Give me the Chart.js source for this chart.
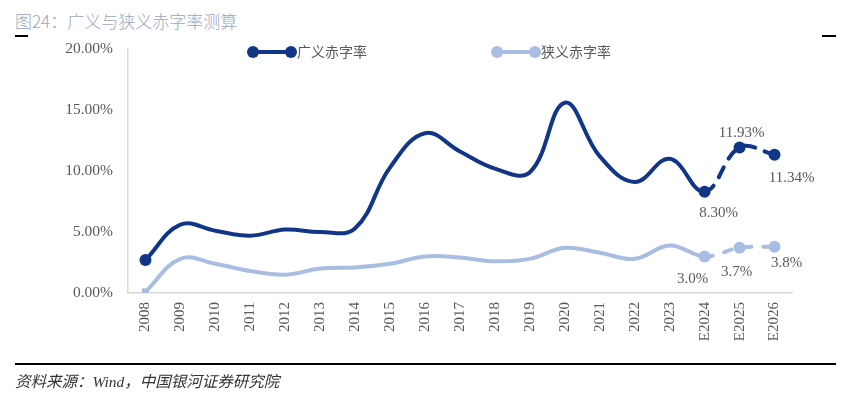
<!doctype html>
<html lang="zh">
<head>
  <meta charset="utf-8">
  <script src="https://cdn.jsdelivr.net/npm/chart.js@4/dist/chart.umd.min.js"></script>
  <style>
    html, body { margin: 0; padding: 0; background: #fff; }
    .wrap { position: relative; width: 848px; height: 393px; overflow: hidden; }
    .title { position: absolute; left: 15px; top: 8px; font: 300 17px "Noto Sans CJK SC", sans-serif; color: #9aa5bf; }
    .tick-l { position: absolute; left: 15px; top: 35px; width: 13px; height: 1.5px; background: #000; }
    .tick-r { position: absolute; left: 822px; top: 35px; width: 14px; height: 1.5px; background: #000; }
    .chart-box { position: absolute; left: 0; top: 0; width: 848px; height: 393px; }
    .legend { position: absolute; top: 44px; font: 14px "Noto Sans CJK SC", sans-serif; color: #595959; }
    .legend .mk { position: absolute; top: 6px; width: 38px; height: 4px; border-radius: 2px; }
    .legend .mk::before, .legend .mk::after { content: ""; position: absolute; top: -4px; width: 12px; height: 12px; border-radius: 50%; background: inherit; }
    .legend .mk::before { left: -6px; }
    .legend .mk::after { right: -6px; }
    .legend .tx { position: absolute; left: 44px; top: -3px; white-space: nowrap; }
    .rule { position: absolute; left: 15px; top: 363px; width: 821px; height: 1.5px; background: #000; }
    .source { position: absolute; left: 15px; top: 369px; font: italic 15.5px "Liberation Serif", "Noto Sans CJK SC", serif; color: #333; }
  </style>
</head>
<body>
<div class="wrap">
  <div class="title">图24：广义与狭义赤字率测算</div>
  <div class="tick-l"></div>
  <div class="tick-r"></div>
  <div class="chart-box"><canvas id="chart"></canvas></div>
  <div class="legend" style="left:253px"><span class="mk" style="background:#123686"></span><span class="tx">广义赤字率</span></div>
  <div class="legend" style="left:497px"><span class="mk" style="background:#a9bde3"></span><span class="tx">狭义赤字率</span></div>
  <div class="rule"></div>
  <div class="source">资料来源：Wind，中国银河证券研究院</div>
</div>
<script>
  // 年份
  const years = ['2008', '2009', '2010', '2011', '2012', '2013', '2014', '2015', '2016', '2017',
    '2018', '2019', '2020', '2021', '2022', '2023', 'E2024', 'E2025', 'E2026'];
  // 广义赤字率 (%)
  const broadDeficit = [2.7, 5.6, 5.1, 4.7, 5.2, 5.0, 5.3, 10.3, 13.1, 11.6,
    10.2, 9.9, 15.6, 11.2, 9.1, 11.0, 8.30, 11.93, 11.34];
  // 狭义赤字率 (%)
  const narrowDeficit = [0.1, 2.8, 2.4, 1.8, 1.5, 2.0, 2.1, 2.4, 3.0, 2.9,
    2.6, 2.8, 3.7, 3.3, 2.8, 3.9, 3.0, 3.7, 3.8];
  // 数据标签
  const broadLabels = { 16: '8.30%', 17: '11.93%', 18: '11.34%' };
  const narrowLabels = { 16: '3.0%', 17: '3.7%', 18: '3.8%' };
  const yTicks = [0, 5, 10, 15, 20];

  const DARK = '#123686';
  const LIGHT = '#a9bde3';
  const forecastStart = 16;

  function radii(r) {
    return years.map((y, i) => (i === 0 || i >= forecastStart) ? r : 0);
  }

  // 标签位置偏移
  const labelOffsets = [
    { 16: [14, 21], 17: [2, -14], 18: [17, 23] },
    { 16: [-12, 23], 17: [-3, 24], 18: [12, 16] }
  ];

  const dataLabels = {
    id: 'dataLabels',
    afterDatasetsDraw(chart) {
      const ctx = chart.ctx;
      const sets = [broadLabels, narrowLabels];
      ctx.save();
      ctx.font = '15px "Liberation Serif", serif';
      ctx.fillStyle = '#595959';
      ctx.textAlign = 'center';
      ctx.textBaseline = 'middle';
      sets.forEach((labels, di) => {
        const meta = chart.getDatasetMeta(di);
        Object.keys(labels).forEach(k => {
          const pt = meta.data[k];
          const off = labelOffsets[di][k];
          ctx.fillText(labels[k], pt.x + off[0], pt.y + off[1]);
        });
      });
      ctx.restore();
    }
  };

  new Chart(document.getElementById('chart').getContext('2d'), {
    type: 'line',
    data: {
      labels: years,
      datasets: [
        {
          label: '广义赤字率',
          data: broadDeficit,
          borderColor: DARK,
          backgroundColor: DARK,
          borderWidth: 4,
          tension: 0.4,
          borderCapStyle: 'round',
          pointRadius: radii(6),
          pointBorderWidth: 0,
          segment: {
            borderDash: c => c.p0DataIndex >= forecastStart ? [11, 10] : undefined
          }
        },
        {
          label: '狭义赤字率',
          data: narrowDeficit,
          borderColor: LIGHT,
          backgroundColor: LIGHT,
          borderWidth: 4,
          tension: 0.4,
          borderCapStyle: 'round',
          pointRadius: years.map((y, i) => i === 0 ? 5 : (i >= forecastStart ? 6 : 0)),
          pointStyle: years.map((y, i) => i === 0 ? 'rect' : 'circle'),
          pointBorderWidth: 0,
          segment: {
            borderDash: c => c.p0DataIndex >= forecastStart ? [8, 12] : undefined
          }
        }
      ]
    },
    options: {
      responsive: true,
      maintainAspectRatio: false,
      animation: false,
      layout: { padding: { top: 49, right: 56, bottom: 40, left: 0 } },
      plugins: {
        legend: { display: false },
        tooltip: { enabled: false }
      },
      scales: {
        x: {
          offset: true,
          grid: { display: true, drawOnChartArea: false, drawTicks: false },
          border: { display: true, color: '#d9d9d9', width: 1.5 },
          ticks: {
            minRotation: 90, maxRotation: 90, padding: 9,
            color: '#595959',
            font: { family: '"Liberation Serif", serif', size: 15 }
          },
          afterFit: axis => { axis.height = 60; }
        },
        y: {
          min: 0, max: 20,
          afterBuildTicks: axis => { axis.ticks = yTicks.map(v => ({ value: v })); },
          grid: { display: true, drawOnChartArea: false, drawTicks: false },
          border: { display: true, color: '#d9d9d9', width: 1.5 },
          ticks: {
            padding: 15,
            color: '#595959',
            font: { family: '"Liberation Serif", serif', size: 15.5 },
            callback: v => v.toFixed(2) + '%'
          },
          afterFit: axis => { axis.width = 128; }
        }
      }
    },
    plugins: [dataLabels]
  });
</script>
</body>
</html>
